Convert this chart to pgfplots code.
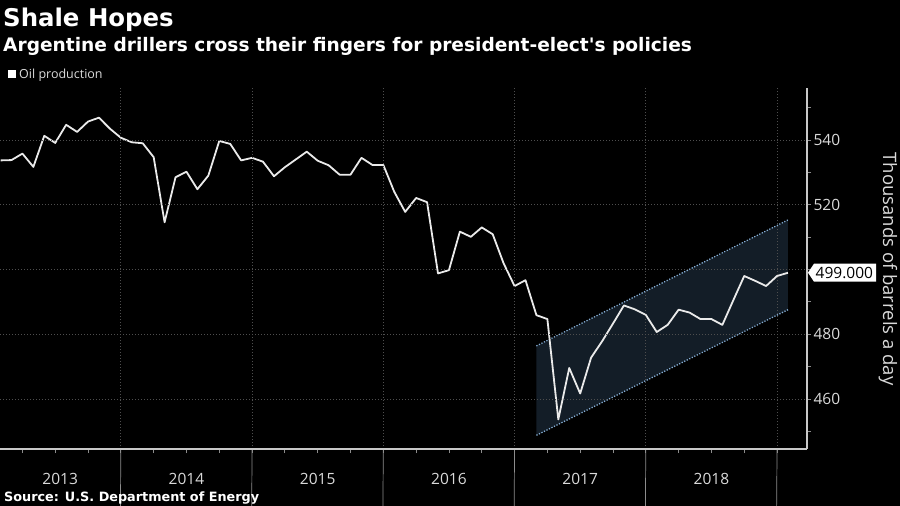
\documentclass[border=0pt]{standalone}
\usepackage{pgfplots}
\pgfplotsset{compat=1.18}
\usepackage{fontspec}
\setmainfont{Open Sans}
\newfontfamily\titlefont{DejaVu Sans}
\definecolor{gridc}{HTML}{4E4E4E}
\definecolor{axc}{HTML}{C8C8C8}
\definecolor{tickc}{HTML}{8C8C8C}
\definecolor{labc}{HTML}{DADADA}
\definecolor{chanfill}{HTML}{131D27}
\definecolor{chanline}{HTML}{86AED4}
\definecolor{linec}{HTML}{EAEAEA}
\begin{document}
\begin{tikzpicture}[x=1pt,y=1pt]
\fill[black] (0,0) rectangle (900,506);
\useasboundingbox (0,0) rectangle (900,506);
\begin{axis}[
  at={(0pt,57pt)}, anchor=south west, scale only axis,
  width=807pt, height=361pt,
  xmin=0.95, xmax=74.74, ymin=444.56, ymax=556.06,
  axis x line*=bottom, axis y line*=right,
  axis line style={axc, line width=1.2pt},
  axis on top,
  clip mode=individual,
  xtick={12,24,36,48,60,72}, xticklabels={},
  minor xtick={3,6,9,15,18,21,27,30,33,39,42,45,51,54,57,63,66,69},
  ytick={460,480,500,520,540}, yticklabels={460,480,,520,540},
  minor ytick={450,470,490,510,530,550},
  tick align=outside,
  major tick length=4pt, minor tick length=4pt,
  every tick/.style={tickc, line width=0.8pt},
  xmajorgrids, ymajorgrids,
  grid style={gridc, dash pattern=on 1pt off 2pt, line width=0.8pt},
  /pgf/number format/assume math mode=true,
  yticklabel style={font=\fontsize{15.5}{18}\selectfont, text=labc, xshift=-1pt},
]
% trend channel
\addplot[fill=chanfill, draw=none] coordinates {(50,448.8) (73,487.6) (73,515.3) (50,476.4)} -- cycle;
\addplot[chanline, dash pattern=on 1.2pt off 1.6pt, line width=1.3pt] coordinates {(50,476.4) (73,515.3)};
\addplot[chanline, dash pattern=on 1.2pt off 1.6pt, line width=1.3pt] coordinates {(50,448.8) (73,487.6)};
% oil production
\addplot[linec, line width=1.8pt, line join=round] coordinates {
(1,533.7) (2,533.8) (3,535.8) (4,531.7) (5,541.3) (6,539.1) (7,544.7) (8,542.5)
(9,545.7) (10,546.9) (11,543.5) (12,540.7) (13,539.3) (14,539.0) (15,534.7) (16,514.6)
(17,528.5) (18,530.2) (19,524.8) (20,529.0) (21,539.7) (22,538.8) (23,533.7) (24,534.5)
(25,533.3) (26,528.8) (27,531.6) (28,534.0) (29,536.4) (30,533.6) (31,532.2) (32,529.3)
(33,529.3) (34,534.5) (35,532.3) (36,532.3) (37,524.0) (38,517.8) (39,522.1) (40,520.8)
(41,498.8) (42,499.8) (43,511.7) (44,510.1) (45,513.0) (46,510.9) (47,501.9) (48,494.9)
(49,496.7) (50,485.9) (51,484.7) (52,453.7) (53,469.6) (54,461.7) (55,472.8) (56,477.8)
(57,483.3) (58,488.9) (59,487.7) (60,486.0) (61,480.7) (62,482.9) (63,487.6) (64,486.7)
(65,484.7) (66,484.7) (67,482.9) (68,490.5) (69,498.0) (70,496.5) (71,494.9) (72,498.0)
(73,499.0)};
% year separators below the axis
\draw[tickc, line width=0.7pt] (axis cs:12,444.56) -- ++(0,-38pt);
\draw[tickc, line width=0.7pt] (axis cs:24,444.56) -- ++(0,-38pt);
\draw[tickc, line width=0.7pt] (axis cs:36,444.56) -- ++(0,-38pt);
\draw[tickc, line width=0.7pt] (axis cs:48,444.56) -- ++(0,-38pt);
\draw[tickc, line width=0.7pt] (axis cs:60,444.56) -- ++(0,-38pt);
\draw[tickc, line width=0.7pt] (axis cs:72,444.56) -- ++(0,-38pt);
% year labels
\begin{scope}[every node/.style={anchor=base, inner sep=0, text=labc, font=\fontsize{15.5}{18}\selectfont}]
\node at ([yshift=-35.3pt]axis cs:6.45,444.56) {2013};
\node at ([yshift=-35.3pt]axis cs:18,444.56) {2014};
\node at ([yshift=-35.3pt]axis cs:30,444.56) {2015};
\node at ([yshift=-35.3pt]axis cs:42,444.56) {2016};
\node at ([yshift=-35.3pt]axis cs:54,444.56) {2017};
\node at ([yshift=-35.3pt]axis cs:66,444.56) {2018};
\end{scope}
\coordinate (lab) at (axis cs:74.74,499);
\end{axis}
% last value label
\fill[white] ([xshift=1pt]lab) -- ++(6pt,9pt) -- ++(62pt,0) -- ++(0,-18pt) -- ++(-62pt,0) -- cycle;
\node[anchor=west, inner sep=0, text=black, font=\fontsize{15.5}{18}\selectfont] at ([xshift=8.5pt]lab) {499.000};
% axis title
\node[rotate=-90, inner sep=0, text=labc, font=\fontsize{18.5}{22}\selectfont] at (888,237) {Thousands of barrels a day};
% titles
\node[anchor=base west, inner sep=0, text=white, font=\titlefont\bfseries\fontsize{24.4}{28}\selectfont] at (3,479.3) {Shale Hopes};
\node[anchor=base west, inner sep=0, text=white, font=\titlefont\bfseries\fontsize{18.6}{22}\selectfont] at (3,454.3) {Argentine drillers cross their fingers for president-elect's policies};
% legend
\fill[white] (7.5,427.5) rectangle (15.5,436);
\node[anchor=base west, inner sep=0, text=labc, font=\fontsize{12.5}{15}\selectfont] at (19,427) {Oil production};
% source
\node[anchor=base west, inner sep=0, text=white, font=\titlefont\bfseries\fontsize{12.8}{15}\selectfont] at (4,4.3) {Source: U.S. Department of Energy};
\end{tikzpicture}
\end{document}
